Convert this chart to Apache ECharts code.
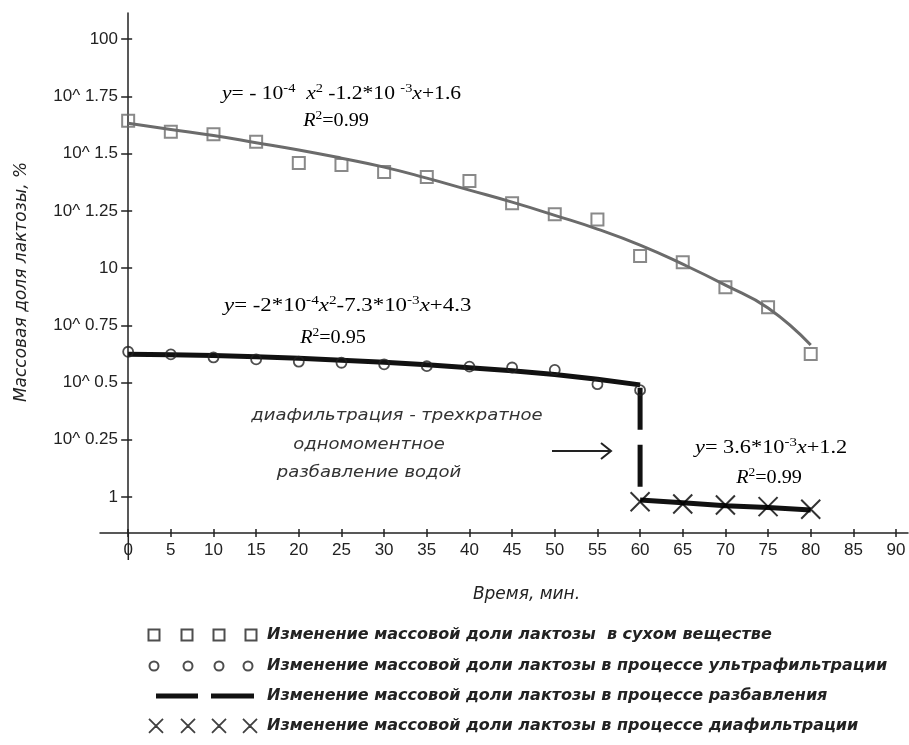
<!DOCTYPE html>
<html><head><meta charset="utf-8">
<script src="https://cdn.jsdelivr.net/npm/echarts@6/dist/echarts.min.js"></script>
<style>html,body{margin:0;padding:0;background:#fff}#c{width:909px;height:745px}</style>
</head><body><div id="c"></div>
<script>
// ---- data (mass fraction of lactose, %) ----
const timeMin = [0,5,10,15,20,25,30,35,40,45,50,55,60,65,70,75,80];
const dryMatterPct = [44.0,39.4,38.4,35.6,28.8,28.2,26.3,25.0,24.0,19.2,17.2,16.3,11.3,10.6,8.24,6.74,4.21];
const dryMatterTrendPct = [42.9,40.3,37.9,35.3,32.8,30.2,27.6,24.7,21.9,19.4,17.0,14.8,12.6,10.4,8.43,6.69,4.61];
const ultraTime = [0,5,10,15,20,25,30,35,40,45,50,55,60];
const ultraPct = [4.31,4.20,4.07,3.99,3.90,3.86,3.80,3.73,3.71,3.68,3.59,3.11,2.93];
const ultraTrendPct = [4.20,4.18,4.15,4.10,4.04,3.96,3.88,3.78,3.67,3.56,3.43,3.27,3.09];
const dilutionTime = [60,60];
const dilutionPct = [3.0,1.09];
const diaTime = [60,65,70,75,80];
const diaPct = [0.954,0.932,0.923,0.908,0.884];
const diaTrendPct = [0.970,0.944,0.916,0.900,0.877];
const yTickExp = [0,0.25,0.5,0.75,1,1.25,1.5,1.75,2];
const yTickLabels = ['1','10^ 0.25','10^ 0.5','10^ 0.75','10','10^ 1.25','10^ 1.5','10^ 1.75','100'];
const xTicks = [0,5,10,15,20,25,30,35,40,45,50,55,60,65,70,75,80,85,90];
const legendNames = [
  'Изменение массовой доли лактозы  в сухом веществе',
  'Изменение массовой доли лактозы в процессе ультрафильтрации',
  'Изменение массовой доли лактозы в процессе разбавления',
  'Изменение массовой доли лактозы в процессе диафильтрации'
];

const toPts = (xs, ys) => xs.map((x, i) => [x, Math.log10(ys[i])]);

const AX = '#222';
const sans = 'Liberation Sans';
const serif = 'Liberation Serif';
const richEq = {
  n: {fontFamily: serif, fontSize: 18, color: '#111', verticalAlign: 'bottom', lineHeight: 20},
  i: {fontFamily: serif, fontStyle: 'italic', fontSize: 18, color: '#111', verticalAlign: 'bottom', lineHeight: 20},
  s: {fontFamily: serif, fontSize: 12, color: '#111', verticalAlign: 'bottom', lineHeight: 13, padding: [0,0,8,0]}
};
const noteFont = {fontFamily: 'DejaVu Sans', fontStyle: 'italic', fontSize: 15, fill: '#333'};

const chart = echarts.init(document.getElementById('c'), null, {renderer: 'canvas'});
const option = {
  backgroundColor: '#fff',
  animation: false,
  grid: {left: 100, right: 1, top: 13, bottom: 212, containLabel: false, outerBoundsMode: 'none'},
  legend: {
    orient: 'vertical', left: 147, top: 626, padding: 0,
    itemWidth: 114, itemHeight: 16, itemGap: 13,
    symbolKeepAspect: true, selectedMode: false,
    textStyle: {fontFamily: 'DejaVu Sans', fontStyle: 'italic', fontWeight: 'bold', fontSize: 16, color: '#222', lineHeight: 16},
    data: [
      {name: legendNames[0], icon: 'path://M0,0M114,16M0.5,2.5h11v11h-11zM33.5,2.5h11v11h-11zM65.5,2.5h11v11h-11zM97.5,2.5h11v11h-11z',
       itemStyle: {color: 'transparent', borderColor: '#222', borderWidth: 2}},
      {name: legendNames[1], icon: 'path://M0,0M114,16M1.5,8a4.5,4.5 0 1,0 9,0a4.5,4.5 0 1,0 -9,0zM35.5,8a4.5,4.5 0 1,0 9,0a4.5,4.5 0 1,0 -9,0zM66.5,8a4.5,4.5 0 1,0 9,0a4.5,4.5 0 1,0 -9,0zM95.5,8a4.5,4.5 0 1,0 9,0a4.5,4.5 0 1,0 -9,0z',
       itemStyle: {color: 'transparent', borderColor: '#222', borderWidth: 2}},
      {name: legendNames[2], icon: 'path://M0,0M114,16M8,5.5h42v5h-42zM63,5.5h43v5h-43z',
       itemStyle: {color: '#111', borderWidth: 0}},
      {name: legendNames[3], icon: 'path://M0,0M114,16M1,1L15,15M15,1L1,15M33,1L47,15M47,1L33,15M64,1L78,15M78,1L64,15M95,1L109,15M109,1L95,15',
       itemStyle: {color: 'transparent', borderColor: '#111', borderWidth: 1.8}}
    ]
  },
  xAxis: [{
    type: 'value', min: -3.3, max: 91.4,
    axisLine: {onZero: false, lineStyle: {color: AX, width: 1.5}},
    axisTick: {show: true, length: 4, customValues: xTicks, lineStyle: {color: AX, width: 1.5}},
    axisLabel: {customValues: xTicks, margin: 9, fontFamily: sans, fontSize: 17, color: AX},
    splitLine: {show: false},
    name: 'Время, мин.', nameLocation: 'middle', nameGap: 53, nameMoveOverlap: false,
    nameTextStyle: {fontFamily: 'DejaVu Sans', fontStyle: 'italic', fontSize: 17, color: '#222', padding: [0,0,0,45]}
  }, {
    type: 'value', min: -3.3, max: 91.4, position: 'bottom',
    axisLine: {show: false, onZero: false},
    axisTick: {show: true, inside: true, length: 4, customValues: xTicks, lineStyle: {color: AX, width: 1.5}},
    axisLabel: {show: false}, splitLine: {show: false}
  }],
  yAxis: [{
    type: 'value', min: -0.157, max: 2.114,
    axisLine: {onZero: true, lineStyle: {color: AX, width: 1.5}},
    axisTick: {show: true, length: 7, customValues: yTickExp, lineStyle: {color: AX, width: 1.5}},
    axisLabel: {
      customValues: yTickExp, margin: -18, fontFamily: sans, fontSize: 17, color: AX,
      formatter: v => { const k = yTickExp.findIndex(e => Math.abs(e - v) < 1e-6); return k >= 0 ? yTickLabels[k] : ''; }
    },
    splitLine: {show: false},
    name: 'Массовая доля лактозы, %', nameLocation: 'middle', nameGap: 70, nameMoveOverlap: false,
    nameTextStyle: {fontFamily: 'DejaVu Sans', fontStyle: 'italic', fontSize: 17, color: '#222', padding: [0,18,0,0]}
  }, {
    type: 'value', min: -0.157, max: 2.114, position: 'left',
    axisLine: {show: false, onZero: true},
    axisTick: {show: true, inside: true, length: 4, customValues: yTickExp, lineStyle: {color: AX, width: 1.5}},
    axisLabel: {show: false}, splitLine: {show: false}
  }],
  series: [
    {type: 'line', data: toPts(timeMin, dryMatterTrendPct), smooth: true, symbol: 'none',
     lineStyle: {color: '#6b6b6b', width: 3}, silent: true, z: 2},
    {name: legendNames[0], type: 'scatter', data: toPts(timeMin, dryMatterPct), symbol: 'rect', symbolSize: 12,
     itemStyle: {color: 'transparent', borderColor: '#6b6b6b', borderWidth: 2}, z: 3},
    {type: 'line', data: toPts(ultraTime, ultraTrendPct), symbol: 'none',
     lineStyle: {color: '#111', width: 5}, silent: true, z: 2},
    {name: legendNames[1], type: 'scatter', data: toPts(ultraTime, ultraPct), symbol: 'circle', symbolSize: 10,
     itemStyle: {color: 'transparent', borderColor: '#222', borderWidth: 1.8}, z: 3},
    {name: legendNames[2], type: 'line', data: toPts(dilutionTime, dilutionPct), symbol: 'none', color: '#111',
     lineStyle: {color: '#111', width: 5, type: [42, 15]}, z: 2},
    {type: 'line', data: toPts(diaTime, diaTrendPct), symbol: 'none',
     lineStyle: {color: '#111', width: 5}, silent: true, z: 2},
    {name: legendNames[3], type: 'scatter', data: toPts(diaTime, diaPct),
     symbol: 'path://M0,0L16,16M16,0L0,16', symbolSize: 19,
     itemStyle: {color: 'none', borderColor: '#000', borderWidth: 2}, z: 3}
  ],
  graphic: [
    {type: 'text', x: 222, y: 93, scaleX: 1.2, style: {text: '{i|y}{n|= - 10}{s|-4}{n|  }{i|x}{s|2}{n| -1.2*10 }{s|-3}{i|x}{n|+1.6}', rich: richEq, align: 'left', verticalAlign: 'middle'}},
    {type: 'text', x: 336, y: 120, scaleX: 1.12, style: {text: '{i|R}{s|2}{n|=0.99}', rich: richEq, align: 'center', verticalAlign: 'middle'}},
    {type: 'text', x: 224, y: 305, scaleX: 1.27, style: {text: '{i|y}{n|= -2*10}{s|-4}{i|x}{s|2}{n|-7.3*10}{s|-3}{i|x}{n|+4.3}', rich: richEq, align: 'left', verticalAlign: 'middle'}},
    {type: 'text', x: 333, y: 337, scaleX: 1.12, style: {text: '{i|R}{s|2}{n|=0.95}', rich: richEq, align: 'center', verticalAlign: 'middle'}},
    {type: 'text', x: 695, y: 447, scaleX: 1.24, style: {text: '{i|y}{n|= 3.6*10}{s|-3}{i|x}{n|+1.2}', rich: richEq, align: 'left', verticalAlign: 'middle'}},
    {type: 'text', x: 769, y: 477, scaleX: 1.12, style: {text: '{i|R}{s|2}{n|=0.99}', rich: richEq, align: 'center', verticalAlign: 'middle'}},
    {type: 'text', x: 397, y: 416, scaleX: 1.2, style: Object.assign({text: 'диафильтрация - трехкратное', align: 'center', verticalAlign: 'middle'}, noteFont)},
    {type: 'text', x: 369, y: 445, scaleX: 1.2, style: Object.assign({text: 'одномоментное', align: 'center', verticalAlign: 'middle'}, noteFont)},
    {type: 'text', x: 369, y: 473, scaleX: 1.2, style: Object.assign({text: 'разбавление водой', align: 'center', verticalAlign: 'middle'}, noteFont)},
    {type: 'line', shape: {x1: 552, y1: 451, x2: 611, y2: 451}, style: {stroke: '#222', lineWidth: 2}},
    {type: 'polyline', shape: {points: [[601, 443], [611, 451], [601, 459]]}, style: {stroke: '#222', lineWidth: 2, fill: null}},
    {type: 'line', shape: {x1: 128.3, y1: 533, x2: 128.3, y2: 560}, style: {stroke: AX, lineWidth: 1.5}}
  ]
};
chart.setOption(option);
</script>
</body></html>
